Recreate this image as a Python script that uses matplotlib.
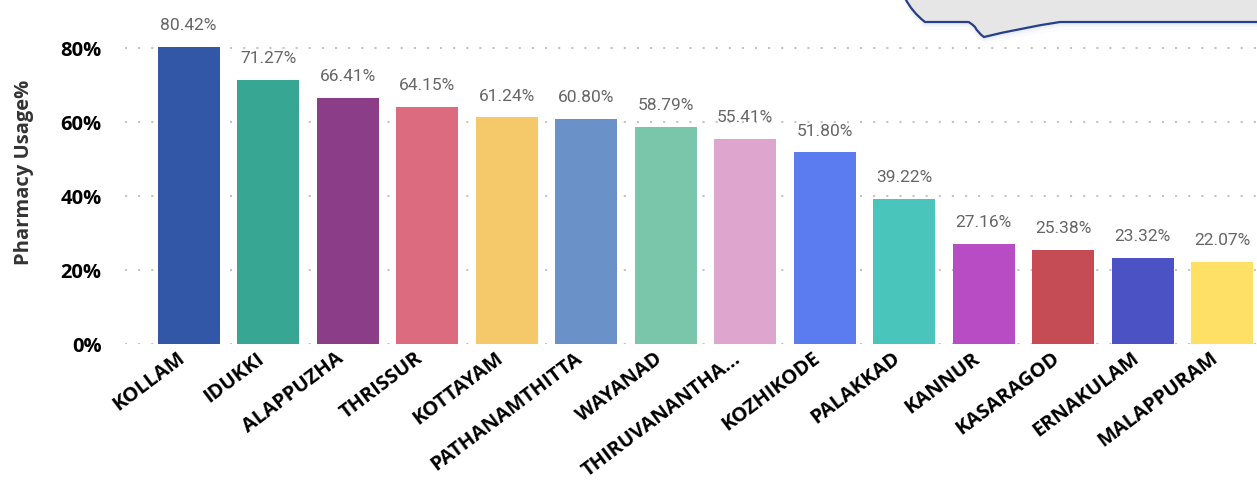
import matplotlib.pyplot as plt
from matplotlib.path import Path
from matplotlib.patches import PathPatch
from matplotlib.ticker import FuncFormatter
from matplotlib.transforms import ScaledTranslation

# Datos del gráfico
distritos = ["KOLLAM", "IDUKKI", "ALAPPUZHA", "THRISSUR", "KOTTAYAM", "PATHANAMTHITTA",
             "WAYANAD", "THIRUVANANTHA...", "KOZHIKODE", "PALAKKAD", "KANNUR",
             "KASARAGOD", "ERNAKULAM", "MALAPPURAM"]
uso = [80.42, 71.27, 66.41, 64.15, 61.24, 60.80, 58.79, 55.41, 51.80, 39.22,
       27.16, 25.38, 23.32, 22.07]
colores = ["#3357A7", "#37A794", "#8B3D88", "#DD6B7F", "#F5C869", "#6B91C9",
           "#79C6AA", "#DEA6CF", "#5B7CF0", "#4AC5BB", "#B84CC5", "#C54B54",
           "#4A52C4", "#FFE066"]
ticks_y = [0, 20, 40, 60, 80]

W, H = 1257, 484
fig = plt.figure(figsize=(W / 100, H / 100), dpi=100)
ax = fig.add_axes([125 / W, (H - 344) / H, 1 - 125 / W, 344 / H])

x = range(len(distritos))
ax.bar(x, uso, width=0.78, color=colores, zorder=2)

for xi, v in zip(x, uso):
    ax.annotate(f"{v:.2f}%", (xi, v), xytext=(0, 10), textcoords="offset points",
                ha="center", va="bottom", fontsize=12.5, color="#666666",
                family="Roboto")

ax.set_xlim(-0.8, len(distritos) - 0.56)
ax.set_ylim(0, 93)
ax.set_yticks(ticks_y)
ax.yaxis.set_major_formatter(FuncFormatter(lambda v, p: f"{v:.0f}%"))
ax.grid(axis="y", color="#c4c4c4", linewidth=1.5, linestyle=(0, (1, 5.3)), zorder=0)
ax.set_axisbelow(True)

for s in ax.spines.values():
    s.set_visible(False)
ax.tick_params(length=0)
ax.tick_params(axis="y", pad=17, labelsize=14.5)
for lab in ax.get_yticklabels():
    lab.set_fontweight("bold")
    lab.set_family("Open Sans")

ax.set_xticks(list(x))
ax.set_xticklabels(distritos, rotation=37, ha="right", va="center",
                   rotation_mode="anchor", fontsize=14.5, fontweight="bold",
                   family="Open Sans")
ax.tick_params(axis="x", pad=9)
desplaza = ScaledTranslation(-6 / 100, 0, fig.dpi_scale_trans)
for lab in ax.get_xticklabels():
    lab.set_transform(lab.get_transform() + desplaza)

ax.set_ylabel("Pharmacy Usage%", fontsize=14.5, fontweight="bold", color="#333333",
              family="Open Sans")
ax.yaxis.set_label_coords(-(125 - 24) / (W - 125), 0.5)
ax.yaxis.label.set_va("center")

# Burbuja decorativa arriba a la derecha (coordenadas en píxeles)
def px(xp, yp):
    return (xp / W, 1 - yp / H)

verts = [px(905, -2), px(912, 12), px(925, 22), px(945, 22),
         px(968, 22), px(970, 22), px(975, 27), px(978, 33), px(984, 37),
         px(1020, 28), px(1060, 22), px(1090, 22), px(1260, 22), px(1260, -2),
         px(905, -2)]
codes = [Path.MOVETO, Path.CURVE3, Path.CURVE3, Path.LINETO,
         Path.LINETO, Path.CURVE3, Path.CURVE3, Path.CURVE3, Path.CURVE3,
         Path.CURVE3, Path.CURVE3, Path.LINETO, Path.LINETO, Path.LINETO,
         Path.CLOSEPOLY]
for k, a in [(8, 0.04), (5, 0.06), (3, 0.08)]:
    sombra = [(vx, vy - k / H) for vx, vy in verts]
    fig.patches.append(PathPatch(Path(sombra, codes), transform=fig.transFigure,
                                 facecolor="#8a9ab8", edgecolor="none", alpha=a))
fig.patches.append(PathPatch(Path(verts, codes), transform=fig.transFigure,
                             facecolor="#e6e6e6", edgecolor="#253f8a", linewidth=1.6))

fig.savefig("out.png", dpi=100)
